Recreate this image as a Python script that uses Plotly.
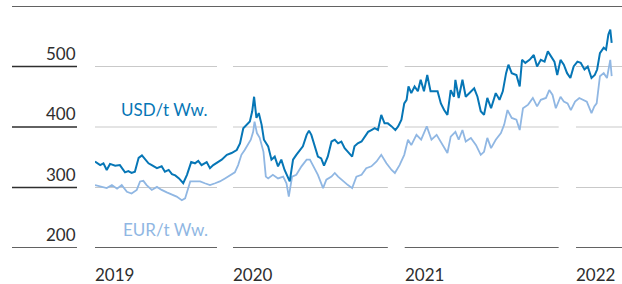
import plotly.graph_objects as go

# ---------------- data ----------------
usd_dates = [
    "2019-03-13", "2019-03-24", "2019-03-31", "2019-04-07", "2019-04-14", "2019-04-25",
    "2019-05-05", "2019-05-16", "2019-05-23", "2019-05-30", "2019-06-06", "2019-06-14",
    "2019-06-21", "2019-06-28", "2019-07-05", "2019-07-12", "2019-07-23", "2019-08-02",
    "2019-08-09", "2019-08-17", "2019-08-24", "2019-08-31", "2019-09-08", "2019-09-17",
    "2019-09-25", "2019-10-04", "2019-10-12", "2019-10-19", "2019-10-26", "2019-11-06",
    "2019-11-13", "2019-11-20", "2019-11-27", "2019-12-08", "2019-12-19", "2019-12-29",
    "2020-01-09", "2020-01-16", "2020-01-23", "2020-01-30", "2020-02-06", "2020-02-11",
    "2020-02-15", "2020-02-20", "2020-02-25", "2020-03-02", "2020-03-07", "2020-03-16",
    "2020-03-23", "2020-03-30", "2020-04-06", "2020-04-13", "2020-04-20", "2020-05-01",
    "2020-05-08", "2020-05-15", "2020-05-22", "2020-05-29", "2020-06-06", "2020-06-11",
    "2020-06-16", "2020-06-23", "2020-06-30", "2020-07-07", "2020-07-13", "2020-07-21",
    "2020-07-29", "2020-08-05", "2020-08-12", "2020-08-19", "2020-08-26", "2020-09-02",
    "2020-09-11", "2020-09-16", "2020-09-23", "2020-10-01", "2020-10-08", "2020-10-15",
    "2020-10-22", "2020-10-29", "2020-11-05", "2020-11-12", "2020-11-19", "2020-11-26",
    "2020-12-04", "2020-12-12", "2020-12-18", "2020-12-25", "2020-12-31",
    "2021-01-05", "2021-01-09", "2021-01-15", "2021-01-22", "2021-01-29", "2021-02-04",
    "2021-02-11", "2021-02-18", "2021-02-25", "2021-03-06", "2021-03-12", "2021-03-19",
    "2021-03-26", "2021-04-02", "2021-04-09", "2021-04-16", "2021-04-19", "2021-04-26",
    "2021-05-04", "2021-05-11", "2021-05-22", "2021-05-29", "2021-06-05", "2021-06-12",
    "2021-06-19", "2021-06-26", "2021-07-04", "2021-07-14", "2021-07-22", "2021-07-29",
    "2021-08-05", "2021-08-10", "2021-08-17", "2021-08-27", "2021-09-03", "2021-09-08",
    "2021-09-15", "2021-09-24", "2021-10-03", "2021-10-10", "2021-10-18", "2021-10-26",
    "2021-11-02", "2021-11-09", "2021-11-16", "2021-11-22", "2021-11-29", "2021-12-06",
    "2021-12-13", "2021-12-20", "2021-12-27",
    "2022-01-04", "2022-01-11", "2022-01-19", "2022-01-26", "2022-02-03", "2022-02-10",
    "2022-02-15", "2022-02-21", "2022-03-01", "2022-03-06", "2022-03-11", "2022-03-15",
    "2022-03-18",
]
usd_values = [
    343, 337, 340, 329, 339, 336,
    337, 325, 327, 324, 326, 349,
    353, 346, 340, 337, 332, 335,
    326, 329, 322, 320, 315, 307,
    321, 342, 340, 344, 337, 342,
    332, 337, 340, 346, 354, 357,
    362, 373, 398, 404, 409, 426,
    450, 415, 423, 404, 379, 368,
    346, 351, 335, 346, 329, 310,
    346, 354, 362, 368, 387, 394,
    387, 368, 351, 348, 336, 351,
    376, 379, 373, 376, 365, 359,
    351, 368, 373, 376, 384, 392,
    395, 398, 395, 420, 406, 406,
    401, 395, 401, 412, 439,
    445, 467, 456, 467, 459, 478,
    459, 486, 459, 459, 459, 439,
    428, 420, 461, 450, 478, 448,
    478, 450, 459, 464, 450, 426,
    420, 448, 431, 456, 445, 459,
    489, 503, 489, 486, 467, 511,
    506, 511, 519, 500, 511, 508,
    525, 517, 508, 486, 511, 503,
    489, 481, 500,
    508, 506, 495, 500, 481, 486,
    495, 522, 531, 528, 553, 561,
    539,
]

eur_dates = [
    "2019-03-13", "2019-03-28", "2019-04-07", "2019-04-18", "2019-04-29", "2019-05-09",
    "2019-05-20", "2019-05-30", "2019-06-10", "2019-06-17", "2019-06-24", "2019-07-01",
    "2019-07-12", "2019-07-23", "2019-08-02", "2019-08-13", "2019-08-24", "2019-09-03",
    "2019-09-14", "2019-09-21", "2019-10-02", "2019-10-12", "2019-10-23", "2019-11-02",
    "2019-11-13", "2019-11-24", "2019-12-04", "2019-12-15", "2019-12-26",
    "2020-01-05", "2020-01-12", "2020-01-19", "2020-01-26", "2020-02-02", "2020-02-08",
    "2020-02-13", "2020-02-16", "2020-02-21", "2020-02-27", "2020-03-06", "2020-03-11",
    "2020-03-16", "2020-03-26", "2020-04-06", "2020-04-17", "2020-04-24", "2020-04-29",
    "2020-05-06", "2020-05-15", "2020-05-26", "2020-06-06", "2020-06-13", "2020-06-20",
    "2020-06-30", "2020-07-11", "2020-07-18", "2020-07-29", "2020-08-05", "2020-08-12",
    "2020-08-23", "2020-09-02", "2020-09-11", "2020-09-20", "2020-10-01", "2020-10-11",
    "2020-10-22", "2020-11-02", "2020-11-12", "2020-11-23", "2020-12-04", "2020-12-11",
    "2020-12-21", "2020-12-31",
    "2021-01-08", "2021-01-15", "2021-01-26", "2021-02-05", "2021-02-17", "2021-02-27",
    "2021-03-10", "2021-03-23", "2021-04-02", "2021-04-09", "2021-04-19", "2021-04-26",
    "2021-05-04", "2021-05-11", "2021-05-22", "2021-06-02", "2021-06-12", "2021-06-19",
    "2021-06-26", "2021-07-04", "2021-07-14", "2021-07-25", "2021-08-01", "2021-08-08",
    "2021-08-17", "2021-08-27", "2021-09-03", "2021-09-10", "2021-09-21", "2021-10-01",
    "2021-10-10", "2021-10-18", "2021-10-29", "2021-11-05", "2021-11-12", "2021-11-19",
    "2021-11-29", "2021-12-06", "2021-12-14", "2021-12-21", "2021-12-30",
    "2022-01-08", "2022-01-15", "2022-01-24", "2022-02-03", "2022-02-09", "2022-02-14",
    "2022-02-21", "2022-03-01", "2022-03-08", "2022-03-15", "2022-03-18",
]
eur_values = [
    304, 301, 299, 304, 298, 304,
    293, 290, 296, 310, 311, 304,
    296, 301, 296, 292, 289, 285,
    279, 282, 310, 310, 310, 307,
    304, 307, 310, 315, 321,
    325, 337, 354, 362, 370, 379,
    392, 409, 390, 382, 359, 318,
    315, 321, 315, 318, 307, 285,
    318, 321, 335, 346, 346, 335,
    321, 299, 313, 318, 324, 318,
    310, 304, 299, 318, 321, 332,
    335, 343, 354, 340, 329, 324,
    337, 354,
    379, 370, 387, 379, 401, 379,
    387, 370, 357, 384, 392, 379,
    395, 376, 382, 370, 354, 359,
    382, 365, 379, 390, 404, 428,
    415, 412, 395, 431, 437, 448,
    434, 445, 448, 461, 453, 431,
    450, 442, 439, 428, 442,
    448, 445, 442, 423, 434, 439,
    484, 489, 481, 511, 484,
]

y_ticks = [200, 300, 400, 500]
year_labels = ["2019", "2020", "2021", "2022"]

# ---------------- layout parameters ----------------
x_range = ["2019-03-13", "2022-04-09"]
y_range = [200, 600]
segments = [("2019-03-13", "2019-11-28"), ("2020-01-01", "2020-11-26"),
            ("2021-01-01", "2021-11-25"), ("2022-01-01", "2022-04-09")]

W, H = 622, 284
ML, MR, MT, MB = 95, 0, 6, 36
plot_w = W - ML - MR

def px_to_paper(px):
    return (px - ML) / plot_w

DARK_BLUE = "#0676b6"
LIGHT_BLUE = "#90b7e3"
TEXT = "#2e2e2e"
GRID = "#c9c9c9"
FONT = "Lato"

fig = go.Figure()
fig.add_trace(go.Scatter(x=eur_dates, y=eur_values, mode="lines",
                         line=dict(color=LIGHT_BLUE, width=1.8), name="EUR/t Ww.",
                         hoverinfo="skip"))
fig.add_trace(go.Scatter(x=usd_dates, y=usd_values, mode="lines",
                         line=dict(color=DARK_BLUE, width=2.0), name="USD/t Ww.",
                         hoverinfo="skip"))

shapes = []
for v in y_ticks:
    col = TEXT if v == y_ticks[0] else GRID
    for s, e in segments:
        shapes.append(dict(type="line", xref="x", yref="y", x0=s, x1=e, y0=v, y1=v,
                           line=dict(color=col, width=1.4 if v == y_ticks[0] else 1.2),
                           layer="below"))
    shapes.append(dict(type="line", xref="paper", yref="y", x0=px_to_paper(12),
                       x1=px_to_paper(77), y0=v, y1=v, line=dict(color=TEXT, width=1.3)))
shapes.append(dict(type="line", xref="paper", yref="y", x0=px_to_paper(12), x1=1,
                   y0=y_range[1], y1=y_range[1], line=dict(color=TEXT, width=1.3)))

annotations = []
for v in y_ticks:
    annotations.append(dict(xref="paper", yref="y", x=px_to_paper(78), y=v,
                            text=str(v), showarrow=False, xanchor="right",
                            yanchor="bottom", yshift=1,
                            font=dict(family=FONT, size=17, color=TEXT)))
for lab, (s, e) in zip(year_labels, segments):
    annotations.append(dict(xref="x", yref="paper", x=s, y=0, text=lab,
                            showarrow=False, xanchor="left", yanchor="top",
                            yshift=-14, xshift=-2,
                            font=dict(family=FONT, size=17, color=TEXT)))
annotations.append(dict(xref="paper", yref="y", x=px_to_paper(210), y=429,
                        text="USD/t Ww.", showarrow=False, xanchor="right",
                        yanchor="middle",
                        font=dict(family=FONT, size=17, color=DARK_BLUE)))
annotations.append(dict(xref="paper", yref="y", x=px_to_paper(210), y=230,
                        text="EUR/t Ww.", showarrow=False, xanchor="right",
                        yanchor="middle",
                        font=dict(family=FONT, size=17, color=LIGHT_BLUE)))

fig.update_layout(
    width=W, height=H,
    margin=dict(l=ML, r=MR, t=MT, b=MB),
    paper_bgcolor="white", plot_bgcolor="white",
    showlegend=False,
    xaxis=dict(range=x_range, type="date", visible=False, fixedrange=True),
    yaxis=dict(range=y_range, visible=False, fixedrange=True),
    shapes=shapes, annotations=annotations,
)

fig.write_html("out.html", config={"displayModeBar": False},
               post_script="document.body.style.margin='0';document.body.style.overflow='hidden';")
